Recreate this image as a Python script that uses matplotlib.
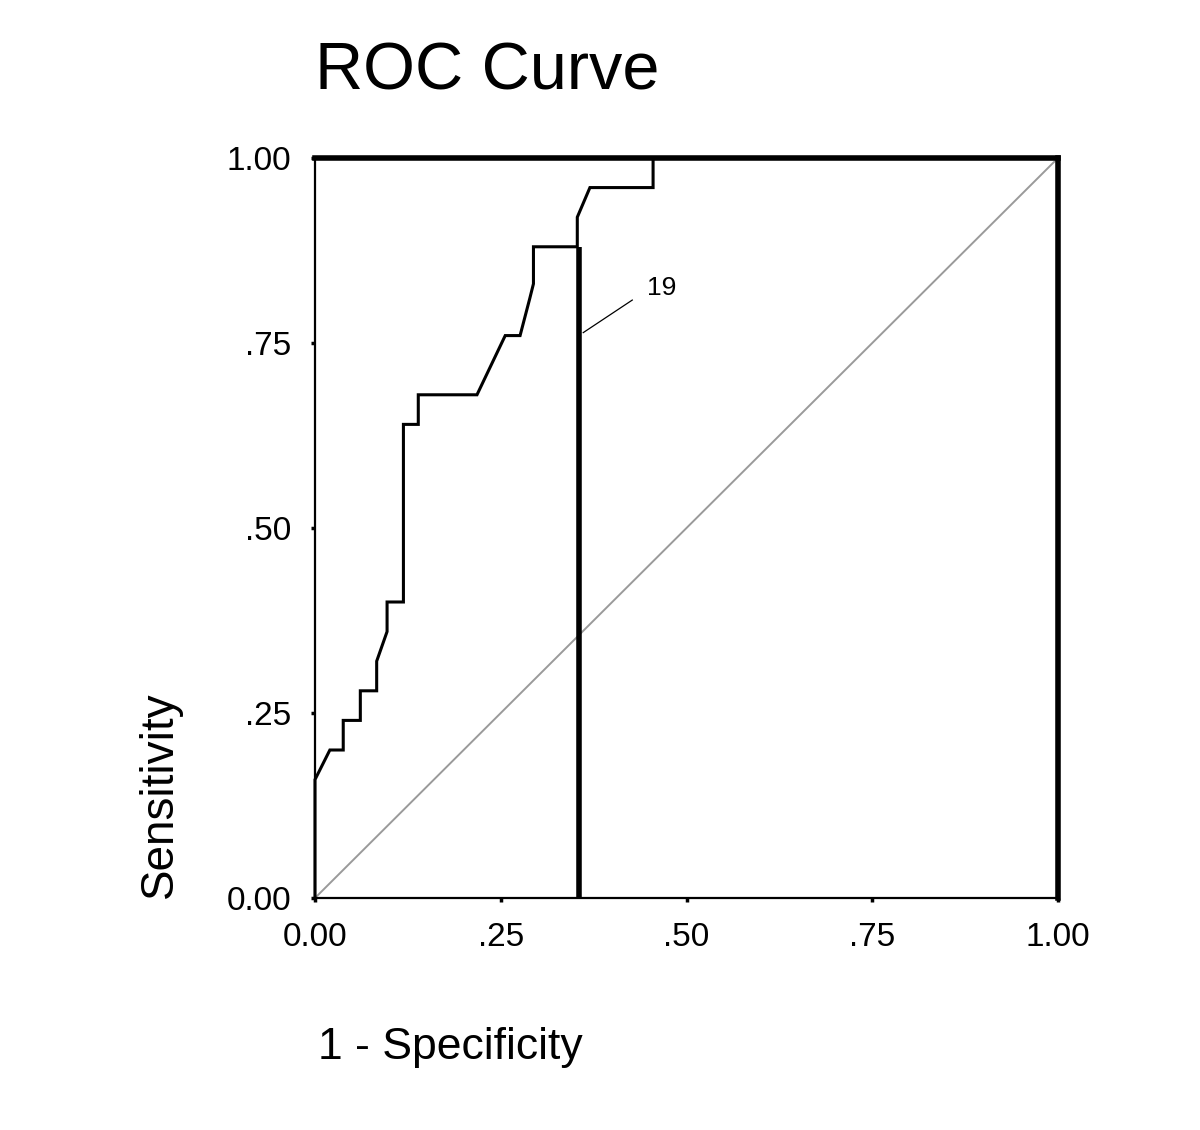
"""SPSS-style ROC curve with a cutoff marker (case 19)."""

import matplotlib

matplotlib.use("Agg")
import matplotlib.pyplot as plt  # noqa: E402

# ROC curve (1 - specificity, sensitivity)
FPR = [0.0, 0.0, 0.020, 0.038, 0.038, 0.061, 0.061, 0.083, 0.083, 0.097, 0.097,
       0.119, 0.119, 0.139, 0.139, 0.218, 0.256, 0.276, 0.289, 0.294, 0.294,
       0.353, 0.353, 0.370, 0.455, 0.455, 1.0]
TPR = [0.0, 0.16, 0.20, 0.20, 0.24, 0.24, 0.28, 0.28, 0.32, 0.36, 0.40,
       0.40, 0.64, 0.64, 0.68, 0.68, 0.76, 0.76, 0.81, 0.83, 0.88,
       0.88, 0.92, 0.96, 0.96, 1.0, 1.0]
REF = [0.0, 1.0]                      # chance diagonal
CUTOFF_X, CUTOFF_Y = 0.355, 0.88      # vertical marker line
CUTOFF_LABEL = "19"
LEADER_X = [0.361, 0.427]
LEADER_Y = [0.764, 0.808]
TICKS = [0.0, 0.25, 0.5, 0.75, 1.0]
TICK_LABELS = ["0.00", ".25", ".50", ".75", "1.00"]

plt.rcParams["font.family"] = ["Liberation Sans", "DejaVu Sans"]


def main() -> None:
    fig = plt.figure(figsize=(12, 11.3), dpi=100)
    ax = fig.add_axes([0.2625, 0.2053, 0.6192, 0.6549])

    ax.plot(REF, REF, color="#9a9a9a", lw=1.4, zorder=1)
    ax.plot(FPR, TPR, color="black", lw=2.2, solid_joinstyle="miter", zorder=3,
            clip_on=False)
    ax.plot([CUTOFF_X, CUTOFF_X], [0, CUTOFF_Y], color="black", lw=4.0, zorder=4,
            solid_capstyle="butt")
    ax.plot(LEADER_X, LEADER_Y, color="black", lw=0.9, zorder=4)
    ax.text(LEADER_X[1] + 0.02, 0.824, CUTOFF_LABEL, fontsize=19, va="center",
            ha="left")

    ax.set_xlim(0, 1)
    ax.set_ylim(0, 1)
    ax.set_xticks(TICKS, TICK_LABELS)
    ax.set_yticks(TICKS, TICK_LABELS)
    ax.tick_params(length=3, width=2.5, labelsize=24, direction="out")
    ax.tick_params(axis="x", pad=14)
    ax.tick_params(axis="y", pad=14)
    for side in ("left", "bottom"):
        ax.spines[side].set_linewidth(1.6)
    for side in ("top", "right"):
        ax.spines[side].set_linewidth(4.0)

    fig.text(0.2625, 0.936, "ROC Curve", fontsize=48, ha="left", va="center")
    fig.text(0.265, 1 - 1047 / 1130, "1 - Specificity", fontsize=32, ha="left",
             va="center")
    fig.text(160 / 1200, 0.2053, "Sensitivity", fontsize=33, rotation=90,
             ha="center", va="bottom")

    fig.savefig("out.png", dpi=100, facecolor="white")


if __name__ == "__main__":
    main()
